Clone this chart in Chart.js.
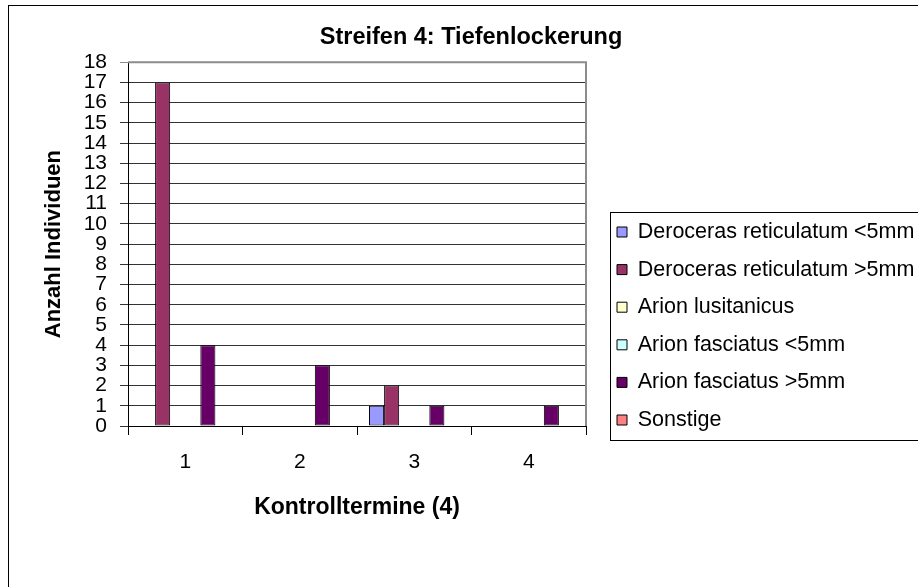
<!DOCTYPE html>
<html>
<head>
<meta charset="utf-8">
<script src="https://cdn.jsdelivr.net/npm/chart.js@4.4.1/dist/chart.umd.min.js"></script>
<style>
  html, body { margin: 0; padding: 0; overflow: hidden; background: #fff; }
  #wrap { width: 918px; height: 587px; overflow: hidden; position: relative; }
  #chart { position: absolute; left: 0; top: 0; }
</style>
</head>
<body>
<div id="wrap"><canvas id="chart" width="942" height="652"></canvas></div>
<script>
// Kontrolltermine (x-Achse)
const termine = ['1', '2', '3', '4'];
const serien = ['Deroceras reticulatum <5mm', 'Deroceras reticulatum >5mm', 'Arion lusitanicus',
  'Arion fasciatus <5mm', 'Arion fasciatus >5mm', 'Sonstige'];
// Anzahl Individuen je Termin
const derocerasKlein = [0, 0, 1, 0];
const derocerasGross = [17, 0, 2, 0];
const arionLusitanicus = [0, 0, 0, 0];
const arionFasciatusKlein = [0, 0, 0, 0];
const arionFasciatusGross = [4, 3, 1, 1];
const sonstige = [0, 0, 0, 0];
const yMax = 18;

const farben = ['#9999ff', '#993366', '#ffffcc', '#ccffff', '#660066', '#ff8080'];
const werte = [derocerasKlein, derocerasGross, arionLusitanicus, arionFasciatusKlein, arionFasciatusGross, sonstige];
const schrift = '"Liberation Sans", Arial, sans-serif';
const legendeGroesse = 21.5;
const legendePadding = 16.1;

// Breite der Legende vorab messen, damit die Plotfläche bei x=586 endet
const mess = document.createElement('canvas').getContext('2d');
mess.font = legendeGroesse + 'px ' + schrift;
const textBreite = Math.max(...serien.map(s => mess.measureText(s).width));
const legendeBreite = legendePadding + 10 + legendeGroesse / 2 + textBreite + 10;
const rechtsPadding = Math.max(0, 942 - 586 - legendeBreite);

// Rahmen, Plotfläche und Legendenkasten wie im Excel-Diagramm
const rahmen = {
  id: 'rahmen',
  beforeDraw(chart) {
    const c = chart.ctx;
    c.save();
    c.fillStyle = '#fff';
    c.fillRect(0, 0, chart.width, chart.height);
    c.strokeStyle = '#000';
    c.lineWidth = 1;
    c.strokeRect(8.5, 5.5, 925, 640);
    c.restore();
  },
  afterLayout(chart) {
    const lg = chart.legend;
    const dx = 617 - (lg.left + lg.options.labels.padding);
    lg.left += dx; lg.right += dx;
    const t = chart.titleBlock;
    const tx = 471 - (t.left + t.right) / 2;
    t.left += tx; t.right += tx;
  },
  beforeDatasetsDraw(chart) {
    const {left, right, top, bottom} = chart.chartArea;
    const c = chart.ctx;
    c.save();
    c.strokeStyle = '#8c8c8c';
    c.lineWidth = 2;
    c.beginPath();
    c.moveTo(left, top);
    c.lineTo(right, top);
    c.lineTo(right, bottom);
    c.stroke();
    c.restore();
  },
  afterDraw(chart) {
    const hb = chart.legend.legendHitBoxes;
    if (!hb || !hb.length) return;
    const last = hb[hb.length - 1];
    const top = Math.round(hb[0].top - 9.5) + 0.5;
    const bottom = Math.round(last.top + last.height + 9.5) + 0.5;
    const left = Math.round(hb[0].left - 7) + 0.5;
    const c = chart.ctx;
    c.save();
    c.strokeStyle = '#000';
    c.lineWidth = 1;
    c.strokeRect(left, top, 930 - left, bottom - top);
    c.restore();
  }
};

const ctx = document.getElementById('chart').getContext('2d');
const chart = new Chart(ctx, {
  type: 'bar',
  data: {
    labels: termine,
    datasets: serien.map((name, i) => ({
      label: name,
      data: werte[i],
      backgroundColor: farben[i],
      borderColor: '#000',
      borderWidth: 1,
      borderSkipped: false,
      categoryPercentage: 0.79,
      barPercentage: 1
    }))
  },
  options: {
    responsive: false,
    animation: false,
    layout: { padding: { left: 0, top: 0, right: rechtsPadding, bottom: 0 } },
    plugins: {
      title: {
        display: true,
        text: 'Streifen 4: Tiefenlockerung',
        color: '#000',
        font: { family: schrift, size: 23.5, weight: 'bold' },
        padding: { top: 23, bottom: 11 }
      },
      legend: {
        position: 'right',
        align: 'center',
        maxWidth: 420,
        labels: {
          boxWidth: 10,
          boxHeight: 10,
          padding: legendePadding,
          color: '#000',
          font: { family: schrift, size: legendeGroesse }
        }
      },
      tooltip: { enabled: false }
    },
    scales: {
      x: {
        grid: { display: true, drawOnChartArea: false, drawTicks: true, tickLength: 9, color: '#000', offset: true },
        border: { display: true, color: '#000', width: 1 },
        ticks: { color: '#000', font: { family: schrift, size: 21 }, padding: 15 },
        title: {
          display: true,
          text: 'Kontrolltermine (4)',
          color: '#000',
          font: { family: schrift, size: 23, weight: 'bold' },
          padding: { top: 0, bottom: 131 }
        },
        afterFit(s) { s.height = 226; }
      },
      y: {
        min: 0,
        max: yMax,
        ticks: { stepSize: 1, autoSkip: false, color: '#000', font: { family: schrift, size: 21, lineHeight: 1 }, padding: 13 },
        grid: {
          color: c => (c.tick && c.tick.value === yMax ? '#8c8c8c' : '#333'),
          tickLength: 8,
          lineWidth: 1
        },
        border: { color: '#000', width: 1 },
        title: {
          display: true,
          text: 'Anzahl Individuen',
          color: '#000',
          font: { family: schrift, size: 22, weight: 'bold' },
          padding: { top: 41, bottom: 0 }
        },
        afterFit(s) { s.width = 128; }
      }
    }
  },
  plugins: [rahmen]
});
</script>
</body>
</html>
